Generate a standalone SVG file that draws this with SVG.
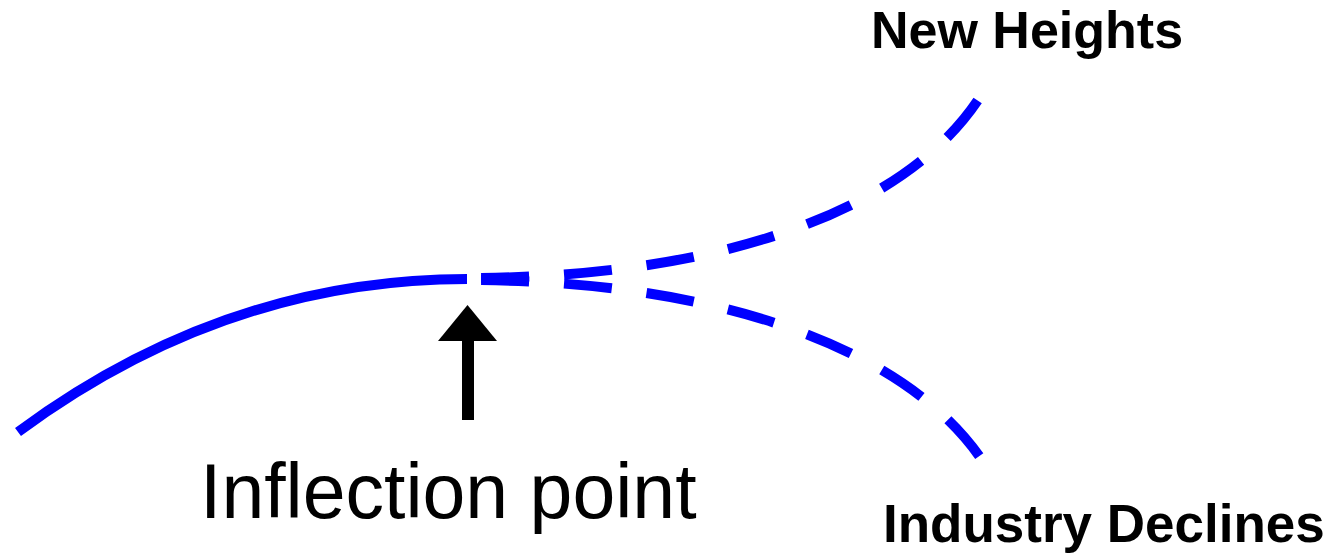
<svg xmlns="http://www.w3.org/2000/svg" width="1332" height="554" viewBox="0 0 1332 554">
<style>
.curve{fill:none;stroke:#0000ff;stroke-width:10}
.dash{stroke-dasharray:48 35;stroke-dashoffset:69}
.lbl{font-family:"Liberation Sans",Arial,sans-serif;fill:#000}
.b{font-weight:bold}
</style>
<rect width="1332" height="554" fill="#fff"/>
<g id="connectors">
<path id="growth" class="curve" d="M18,432 Q225,279 467,279"/>
<path id="up" class="curve dash" d="M467,278 C700,278 900,220 980,97"/>
<path id="down" class="curve dash" d="M467,280 C700,280 900,340 982,460"/>
<g id="arrow">
<rect x="462" y="338" width="12" height="82" fill="#000"/>
<polygon points="467.5,305 497,341 438,341" fill="#000"/>
</g>
</g>
<g id="inflection"><text class="lbl" x="200" y="518" font-size="77">Inflection point</text></g>
<g id="new-heights"><text class="lbl b" x="871" y="48" font-size="52">New Heights</text></g>
<g id="industry-declines"><text class="lbl b" x="883" y="542" font-size="53">Industry Declines</text></g>
</svg>
